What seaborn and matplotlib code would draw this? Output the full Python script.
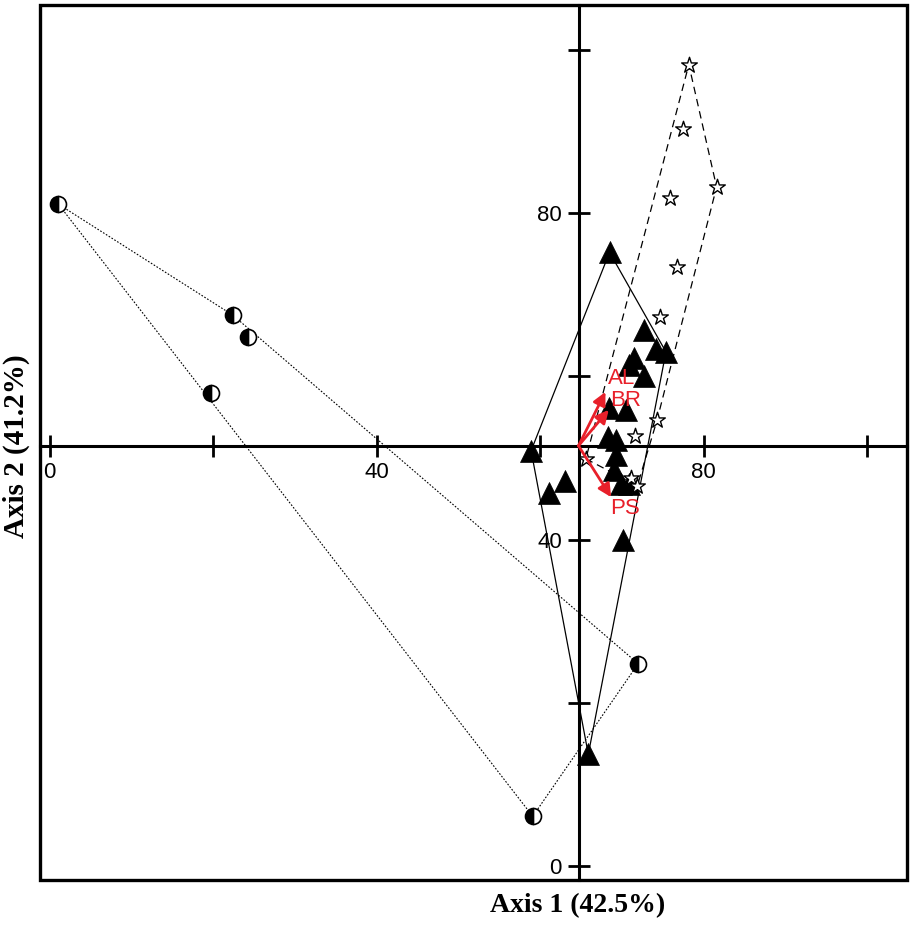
import numpy as np
import matplotlib
matplotlib.use("Agg")
import matplotlib.pyplot as plt
import seaborn as sns
import pandas as pd

# ---- data ----
circ_x = [1.05, 22.4, 24.2, 19.7, 72.0, 59.1]
circ_y = [81.1, 67.5, 64.8, 58.0, 24.8, 6.1]

tri_x = [68.5, 58.9, 61.1, 63.1, 65.9, 70.2, 72.7, 74.2, 75.4, 71.5, 70.9, 72.7,
         68.4, 70.5, 68.3, 69.3, 69.3, 69.0, 69.9, 70.9]
tri_y = [75.2, 50.9, 45.7, 47.2, 13.7, 40.0, 65.7, 63.4, 63.0, 62.3, 61.4, 60.0,
         56.1, 55.9, 52.6, 52.2, 50.4, 48.5, 46.8, 46.8]

star_x = [78.2, 77.5, 81.6, 75.9, 76.7, 74.7, 74.3, 71.6, 65.6, 71.1, 71.9]
star_y = [98.2, 90.3, 83.2, 81.9, 73.4, 67.3, 54.6, 52.7, 49.9, 47.5, 46.6]

origin = (64.7, 51.5)
vec_names = ["AL", "BR", "PS"]
vec_x = [68.0, 68.4, 68.7]
vec_y = [58.1, 55.9, 45.2]
lab_x = [70.0, 70.5, 70.4]
lab_y = [59.7, 57.1, 43.8]

xticks = [0, 20, 40, 60, 80, 100]
yticks = [0, 20, 40, 60, 80, 100]
shown_ticks = [0, 40, 80]

xlabel = "Axis 1 (42.5%)"
ylabel = "Axis 2 (41.2%)"


def hull(xs, ys):
    pts = sorted(set(zip(xs, ys)))
    def cross(o, a, b):
        return (a[0]-o[0])*(b[1]-o[1]) - (a[1]-o[1])*(b[0]-o[0])
    lower, upper = [], []
    for p in pts:
        while len(lower) >= 2 and cross(lower[-2], lower[-1], p) <= 0:
            lower.pop()
        lower.append(p)
    for p in reversed(pts):
        while len(upper) >= 2 and cross(upper[-2], upper[-1], p) <= 0:
            upper.pop()
        upper.append(p)
    h = lower[:-1] + upper[:-1]
    h.append(h[0])
    return [p[0] for p in h], [p[1] for p in h]


sns.set_style("white")
plt.rcParams['font.family'] = ['Liberation Sans', 'DejaVu Sans']
plt.rcParams['text.color'] = 'black'

fig = plt.figure(figsize=(9.11, 9.26), dpi=100)
ax = fig.add_axes([40/911, 1-880/926, 867/911, 875/926])
ax.set_xlim(-1.2, 104.9)
ax.set_ylim(-1.7, 105.5)

# hulls
hx, hy = hull(circ_x, circ_y)
ax.plot(hx, hy, color="black", lw=0.8, ls=(0, (1.5, 1.5)), zorder=2)
hx, hy = hull(tri_x, tri_y)
ax.plot(hx, hy, color="black", lw=0.9, ls="-", zorder=2)
hx, hy = hull(star_x, star_y)
ax.plot(hx, hy, color="black", lw=0.9, ls=(0, (6, 4)), zorder=2)

# points
df_tri = pd.DataFrame({"x": tri_x, "y": tri_y})
df_star = pd.DataFrame({"x": star_x, "y": star_y})
sns.scatterplot(data=df_tri, x="x", y="y", marker="^", s=250, color="black",
                edgecolor="black", linewidth=0.5, ax=ax, zorder=4)
sns.scatterplot(data=df_star, x="x", y="y", marker="*", s=140, color="white",
                edgecolor="black", linewidth=1.0, ax=ax, zorder=4)
ax.plot(circ_x, circ_y, ls="none", marker="o", markersize=11.5, fillstyle="left",
        markerfacecolor="black", markerfacecoloralt="white",
        markeredgecolor="black", markeredgewidth=1.2, zorder=5)

# vectors
red = "#e8202a"
for name, vx, vy, lx, ly in zip(vec_names, vec_x, vec_y, lab_x, lab_y):
    ax.annotate("", xy=(vx, vy), xytext=origin,
                arrowprops=dict(arrowstyle="-|>,head_length=0.6,head_width=0.3",
                                mutation_scale=13,
                                color=red, lw=2.0, shrinkA=0, shrinkB=0),
                zorder=6)
    ax.text(lx, ly, name, color=red, fontsize=16, ha="center", va="center", zorder=7)

# crossing axes
for s in ["top", "right"]:
    ax.spines[s].set_visible(False)
ax.spines["left"].set_position(("data", origin[0]))
ax.spines["bottom"].set_position(("data", origin[1]))
for s in ["left", "bottom"]:
    ax.spines[s].set_linewidth(2.2)
    ax.spines[s].set_color("black")
    ax.spines[s].set_zorder(3)

ax.set_xticks(xticks)
ax.set_yticks(yticks)
ax.set_xticklabels([str(t) if t in shown_ticks else "" for t in xticks])
ax.set_yticklabels([str(t) if t in shown_ticks else "" for t in yticks])
ax.tick_params(axis="both", direction="inout", length=16, width=2.0,
               labelsize=16, pad=4, colors="black")
ax.tick_params(axis="both", bottom=True, left=True)
ax.set_xlabel("")
ax.set_ylabel("")

# outer frame
frame = plt.Rectangle((0, 0), 1, 1, transform=ax.transAxes, fill=False,
                      lw=2.4, edgecolor="black", clip_on=False, zorder=10)
ax.add_patch(frame)

fig.text(578/911, 1-906/926, xlabel, ha="center", va="center", fontsize=20,
         fontweight="bold", family=["Liberation Serif"], color="black")
fig.text(16/911, 1-446/926, ylabel, ha="center", va="center", fontsize=21,
         fontweight="bold", family=["Liberation Serif"], rotation=90, color="black")

fig.savefig("out.png", dpi=100, facecolor="white")
